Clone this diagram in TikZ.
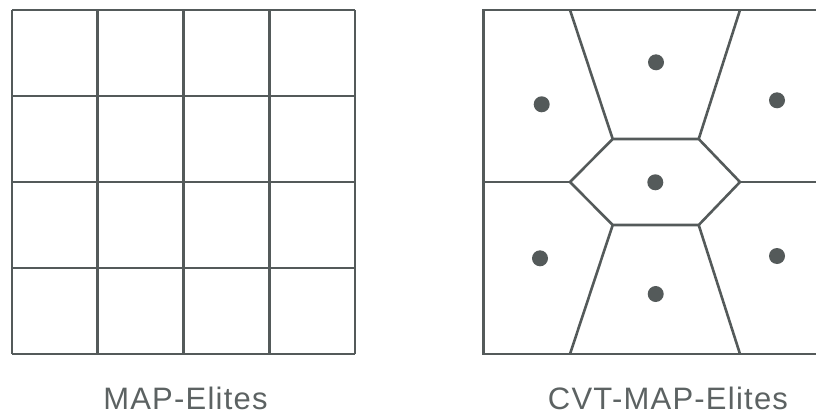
\documentclass[tikz,border=0pt]{standalone}
\usepackage{fontspec}
\setmainfont{Liberation Sans}
\usetikzlibrary{calc}
\definecolor{edgegray}{RGB}{84,90,90}
\definecolor{textgray}{RGB}{92,98,98}
\tikzset{cellline/.style={draw=edgegray, line width=2.6pt, line join=miter},
  seed/.style={circle, fill=edgegray, inner sep=0pt, minimum size=16pt},
  caption/.style={anchor=base, text=textgray, font=\fontsize{31}{34}\selectfont\addfontfeature{LetterSpace=4}}}
\begin{document}
\begin{tikzpicture}[x=1pt, y=-1pt]
  \useasboundingbox (0,0) rectangle (816,415);
  \clip (0,0) rectangle (816,415);
  % regular grid (left)
  \foreach \i in {0,...,4} {
    \draw[cellline] (12+85.75*\i,10) -- (12+85.75*\i,354);
    \draw[cellline] (12,10+86*\i) -- (355,10+86*\i);
  }
  \node[caption] (gridlbl) at (185.5,409) {MAP-Elites};
  % centroidal voronoi (right)
  \coordinate (tl) at (570,10);   \coordinate (tr) at (740,10);
  \coordinate (hl) at (570,182);  \coordinate (hr) at (740,182);
  \coordinate (htl) at (612.7,139); \coordinate (htr) at (698.7,139);
  \coordinate (hbl) at (612.7,225); \coordinate (hbr) at (698.7,225);
  \coordinate (bl) at (570,354);  \coordinate (br) at (740,354);
  \coordinate (wl) at (483.5,182); \coordinate (wr) at (826,182);
  \draw[cellline] (483.5,10) rectangle (826,354);
  \draw[cellline] (hl) -- (htl) -- (htr) -- (hr) -- (hbr) -- (hbl) -- cycle;
  \draw[cellline] (tl) -- (htl) (tr) -- (htr);
  \draw[cellline] (bl) -- (hbl) (br) -- (hbr);
  \draw[cellline] (wl) -- (hl) (hr) -- (wr);
  \node[seed] (s1) at (656,62.3) {};
  \node[seed] (s2) at (541.7,104.3) {};
  \node[seed] (s3) at (777,100.3) {};
  \node[seed] (s4) at (655.3,182.3) {};
  \node[seed] (s5) at (540,258.3) {};
  \node[seed] (s6) at (777,256) {};
  \node[seed] (s7) at (655.7,294) {};
  \node[caption] (cvtlbl) at (668,409) {CVT-MAP-Elites};
\end{tikzpicture}
\end{document}
